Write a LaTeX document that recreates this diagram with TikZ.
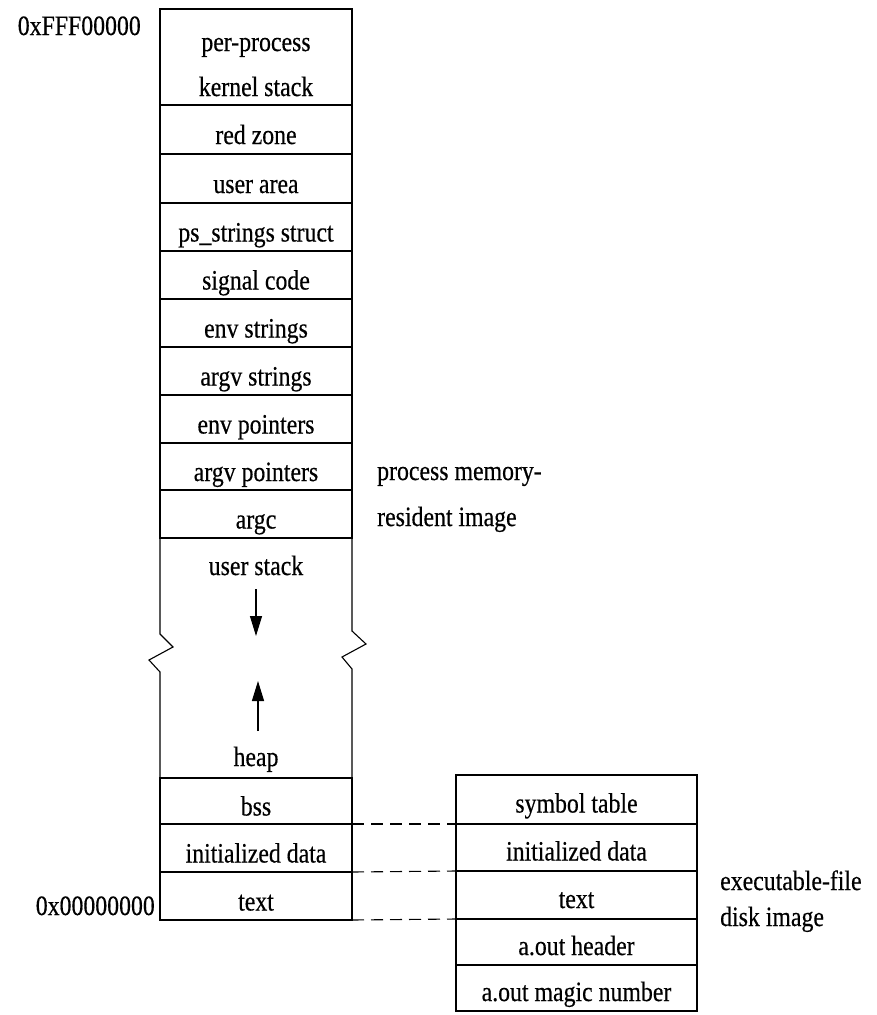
\documentclass[tikz,border=0pt]{standalone}
\usepackage{fontspec}
\setmainfont{Liberation Serif}[FakeStretch=0.85,FakeBold=0.4]
\usetikzlibrary{arrows.meta}
\newcommand\diaglbl{\fontsize{28}{34}\selectfont}
\begin{document}
\begin{tikzpicture}[x=1pt,y=-1pt,
  frame/.style={line width=1.1pt, line join=miter},
  cell/.style={draw, frame, anchor=north west, inner sep=0pt, outer sep=0pt, font=\diaglbl, text depth=0pt},
  lcell/.style={cell, minimum width=192pt, text height=29pt},
  rcell/.style={cell, minimum width=241pt, text height=26pt},
  lbl/.style={inner sep=0pt, font=\diaglbl},
  growarrow/.style={line width=1.2pt, -{Triangle[length=20pt,width=12pt]}},
  link/.style={line width=1.1pt, dash pattern=on 12pt off 7pt}]
\useasboundingbox (0,0) rectangle (877,1015);
% process memory image
\node[lcell, minimum height=96pt] (kern) at (160,9) {};
\node[lbl, anchor=base] (kern1) at (256,51) {per-process};
\node[lbl, anchor=base] (kern2) at (256,96) {kernel stack};
\node[lcell, minimum height=49pt] (rz) at (160,105) {red zone};
\node[lcell, minimum height=49pt] (ua) at (160,154) {user area};
\node[lcell, minimum height=48pt] (ps) at (160,203) {ps\_strings struct};
\node[lcell, minimum height=48pt] (sig) at (160,251) {signal code};
\node[lcell, minimum height=48pt] (envs) at (160,299) {env strings};
\node[lcell, minimum height=48pt] (argvs) at (160,347) {argv strings};
\node[lcell, minimum height=48pt] (envp) at (160,395) {env pointers};
\node[lcell, minimum height=47pt] (argvp) at (160,443) {argv pointers};
\node[lcell, minimum height=48pt] (argc) at (160,490) {argc};
\node[lcell, minimum height=46pt] (bss) at (160,778) {bss};
\node[lcell, minimum height=48pt] (idata) at (160,824) {initialized data};
\node[lcell, minimum height=48pt] (txt) at (160,872) {text};
% stack / heap region with break
\draw[frame] (argc.south west) -- (160,634) -- (173,647) -- (149,660) -- (160,672) -- (bss.north west);
\draw[frame] (argc.south east) -- (352,631) -- (366,644) -- (342,657) -- (352,669) -- (bss.north east);
\node[lbl, anchor=base] (ustack) at (256,575) {user stack};
\node[lbl, anchor=base] (heap) at (256,766) {heap};
\coordinate (sdown0) at (256,589);
\coordinate (sdown1) at (256,636);
\coordinate (hup0) at (258,731);
\coordinate (hup1) at (258,681);
\draw[growarrow] (sdown0) -- (sdown1);
\draw[growarrow] (hup0) -- (hup1);
% addresses
\node[lbl, anchor=base east] (top) at (141,35) {0xFFF00000};
\node[lbl, anchor=base east] (bot) at (155,915) {0x00000000};
\node[lbl, anchor=base west] (pmri1) at (377,480) {process memory-};
\node[lbl, anchor=base west] (pmri2) at (377,526) {resident image};
% executable file image
\node[rcell, minimum height=49pt] (sym) at (456,775) {symbol table};
\node[rcell, minimum height=47pt] (fdata) at (456,824) {initialized data};
\node[rcell, minimum height=48pt] (ftext) at (456,871) {text};
\node[rcell, minimum height=46pt] (hdr) at (456,919) {a.out header};
\node[rcell, minimum height=46pt] (magic) at (456,965) {a.out magic number};
\node[lbl, anchor=base west] (efdi1) at (720,890) {executable-file};
\node[lbl, anchor=base west] (efdi2) at (720,926) {disk image};
% correspondences
\draw[link] (bss.south east) -- (sym.south west);
\draw[link] (idata.south east) -- (fdata.south west);
\draw[link] (txt.south east) -- (ftext.south west);
\end{tikzpicture}
\end{document}
